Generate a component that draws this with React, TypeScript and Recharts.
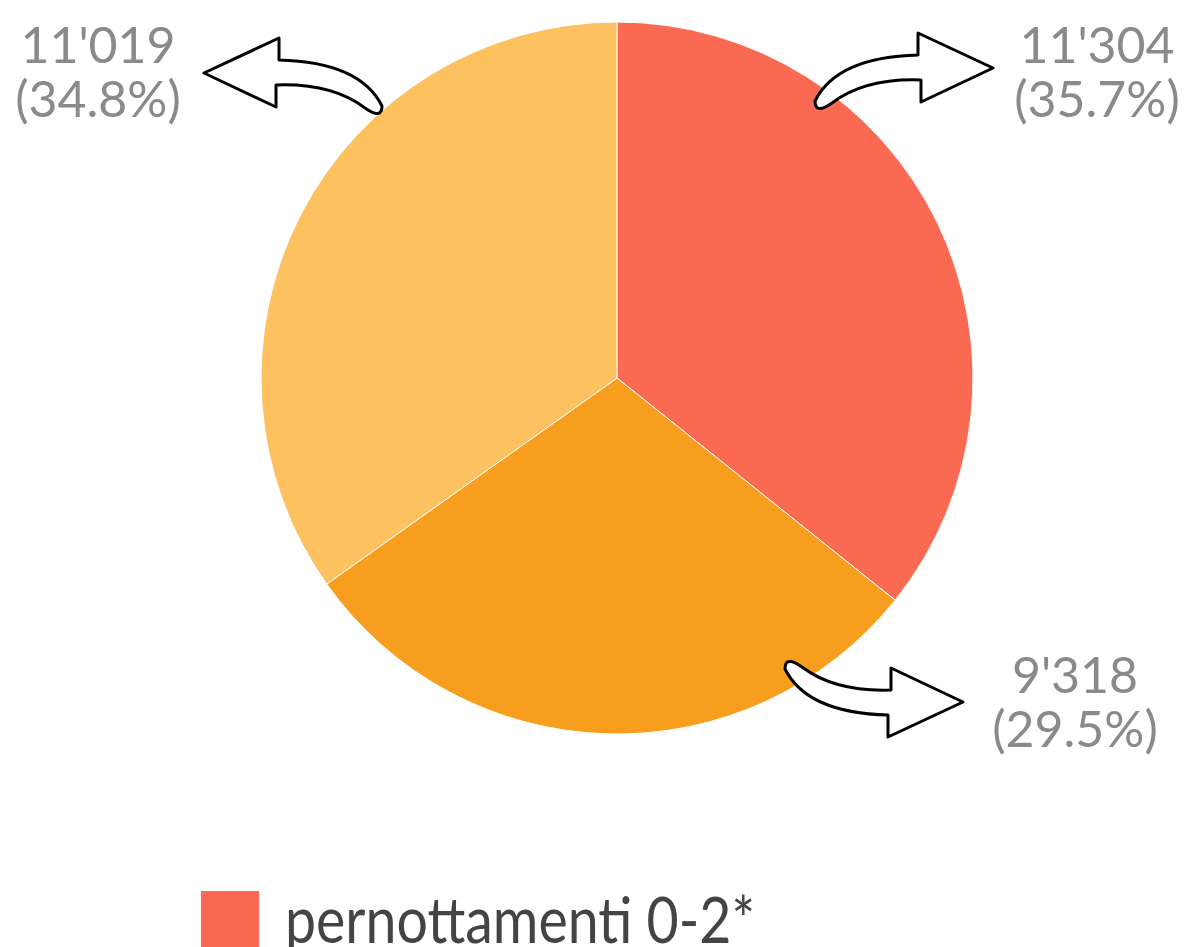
import React from "react";
import { PieChart, Pie, Cell, Legend } from "recharts";

// slice order: clockwise from 12 o'clock
const categories = ["pernottamenti 0-2*", "pernottamenti 3-7*", "pernottamenti 8+*"];
const values = [11304, 9318, 11019];
const shares = [35.7, 29.5, 34.8];
const colors = ["#FA6A52", "#F89E1F", "#FEC160"];

const data = categories.map((name, i) => ({ name, value: values[i], share: shares[i] }));

// arrow tail offset from pie centre, mirroring, and label offset
const callouts = [
  { ax: 198, ay: -273, sx: 1, sy: 1, tx: 480, ty: -315 },
  { ax: 168, ay: 287, sx: 1, sy: -1, tx: 458, ty: 315 },
  { ax: -235, ay: -268, sx: -1, sy: 1, tx: -519, ty: -315 },
];

const arrowPath =
  "M 103 -50 L 103 -72 L 178 -37 L 106 -3 L 106 -25 Q 50 -27 17 -2 Q 0 10 0 -4 Q 22 -48 103 -50 Z";

const fmt = (v: number) => String(v).replace(/\B(?=(\d{3})+(?!\d))/g, "'");

const renderLabel = (props: any) => {
  const { cx, cy, index } = props;
  const c = callouts[index];
  const d = data[index];
  return (
    <g key={`lbl-${index}`}>
      <path
        d={arrowPath}
        transform={`translate(${cx + c.ax},${cy + c.ay}) scale(${c.sx},${c.sy})`}
        fill="#fff"
        stroke="#000"
        strokeWidth={3}
        strokeLinejoin="round"
      />
      <text
        x={cx + c.tx}
        y={cy + c.ty}
        textAnchor="middle"
        fill="#8a8a8a"
        fontSize={50}
        fontFamily="Lato, sans-serif"
      >
        <tspan x={cx + c.tx}>{fmt(d.value)}</tspan>
        <tspan x={cx + c.tx} dy={54}>
          ({d.share.toFixed(1)}%)
        </tspan>
      </text>
    </g>
  );
};

const renderLegend = () => (
  <svg width={800} height={67} style={{ display: "block" }}>
    <rect x={201} y={11} width={58} height={58} fill={colors[0]} />
    <text
      x={285}
      y={63}
      fontSize={64}
      fill="#444"
      fontFamily="Lato, sans-serif"
      textLength={470}
      lengthAdjust="spacingAndGlyphs"
    >
      {categories[0]}
    </text>
  </svg>
);

export default function App() {
  return (
    <div style={{ width: 1190, height: 947, background: "#fff", overflow: "hidden" }}>
      <style>{`body{margin:0}`}</style>
      <PieChart width={1190} height={947} margin={{ top: 0, right: 0, bottom: 0, left: 0 }}>
        <Pie
          data={data}
          dataKey="value"
          nameKey="name"
          cx={617}
          cy={378}
          outerRadius={356}
          startAngle={90}
          endAngle={-270}
          stroke="#fff"
          strokeWidth={1}
          label={renderLabel}
          labelLine={false}
          isAnimationActive={false}
        >
          {data.map((d, i) => (
            <Cell key={d.name} fill={colors[i]} />
          ))}
        </Pie>
        <Legend content={renderLegend} wrapperStyle={{ position: "absolute", left: 0, top: 880, width: 800 }} />
      </PieChart>
    </div>
  );
}
